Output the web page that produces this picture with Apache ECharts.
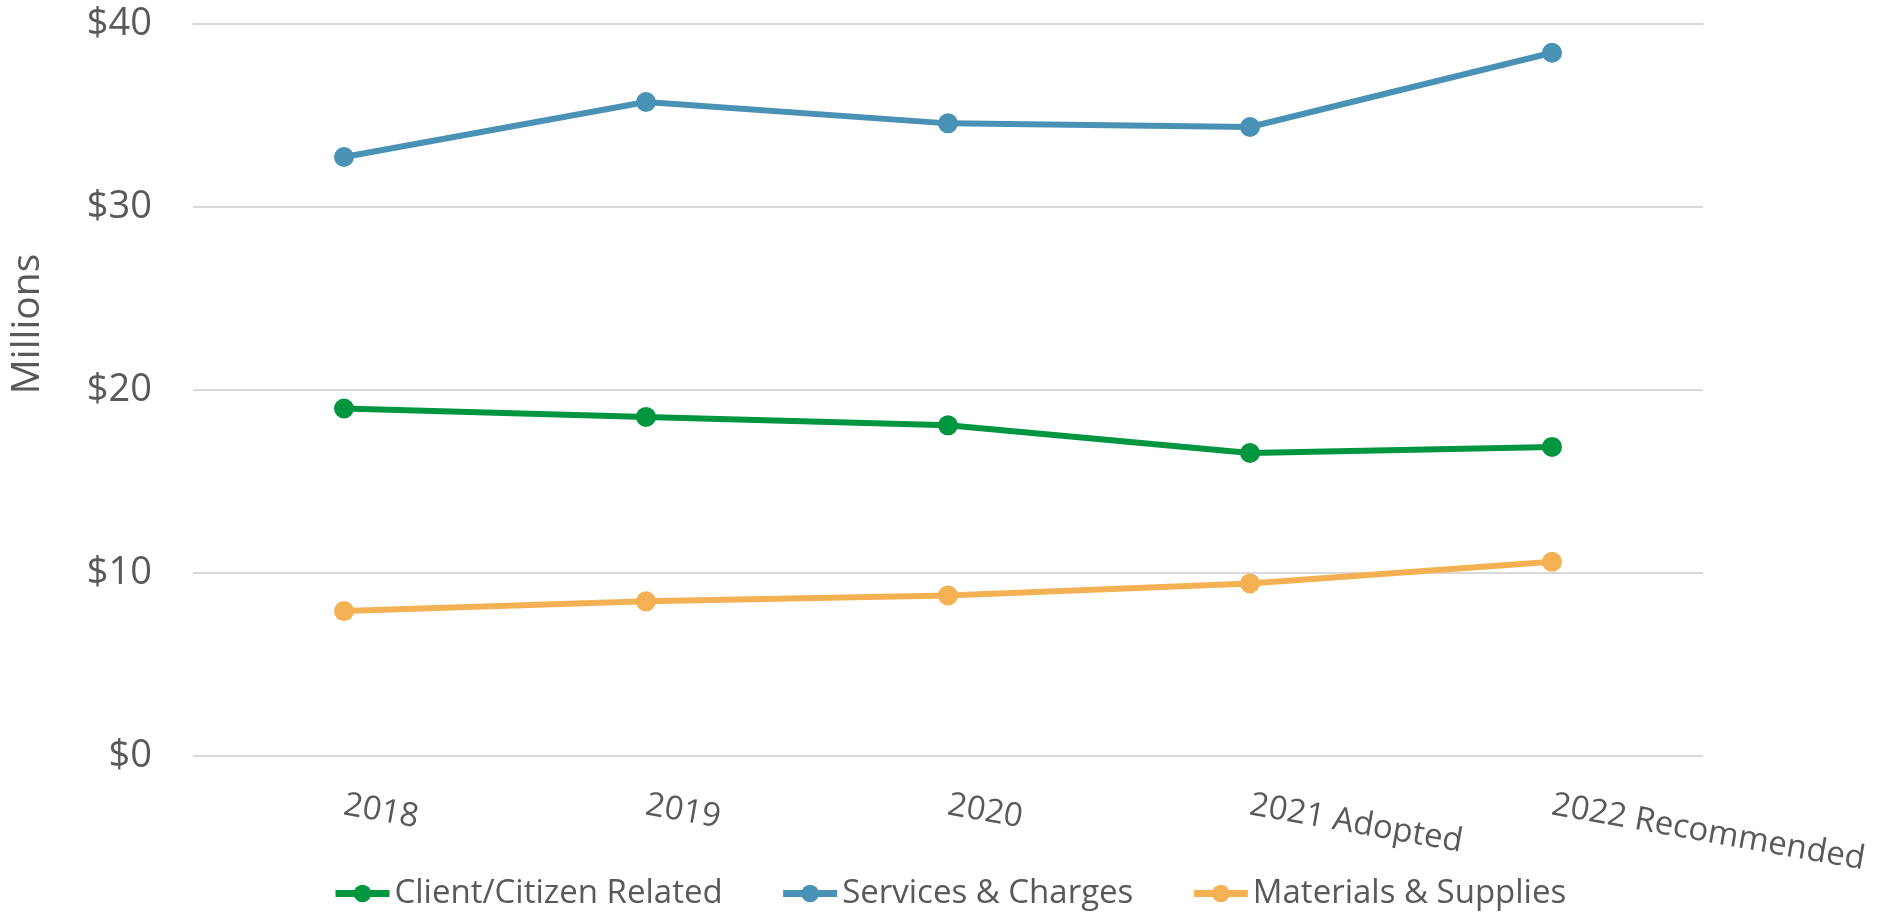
<!DOCTYPE html>
<html>
<head>
<meta charset="utf-8">
<script src="https://cdn.jsdelivr.net/npm/echarts@6/dist/echarts.min.js"></script>
<style>
  html, body { margin: 0; padding: 0; background: #fff; }
  #main { width: 1878px; height: 915px; }
</style>
</head>
<body>
<div id="main"></div>
<script>
// data (values in millions of dollars)
const years = ['2018', '2019', '2020', '2021 Adopted', '2022 Recommended'];
const clientCitizen = [18.99, 18.53, 18.07, 16.56, 16.89];
const servicesCharges = [32.73, 35.74, 34.57, 34.37, 38.43];
const materialsSupplies = [7.92, 8.45, 8.77, 9.43, 10.61];
const yTicks = [0, 10, 20, 30, 40];

const textColor = '#595959';
const font = '"Open Sans", sans-serif';

const myChart = echarts.init(document.getElementById('main'));

function lineSeries(name, data, color) {
    return {
        name: name,
        type: 'line',
        data: data,
        symbol: 'circle',
        symbolSize: 20,
        itemStyle: { color: color },
        lineStyle: { color: color, width: 6 },
        z: 3
    };
}

const option = {
    animation: false,
    textStyle: { fontFamily: font },
    grid: { left: 192, right: 175, top: 24, bottom: 159 },
    legend: {
        bottom: 0,
        left: 327,
        itemWidth: 54,
        itemHeight: 22,
        itemGap: 57,
        lineStyle: { width: 7 },
        textStyle: { fontSize: 33, color: textColor, fontFamily: font },
        data: ['Client/Citizen Related', 'Services & Charges', 'Materials & Supplies']
    },
    xAxis: {
        type: 'category',
        data: years,
        boundaryGap: true,
        axisLine: { show: false },
        axisTick: { show: false },
        axisLabel: {
            rotate: -10,
            margin: 49,
            fontSize: 33,
            color: textColor,
            fontFamily: font,
            interval: 0
        }
    },
    yAxis: {
        type: 'value',
        min: yTicks[0],
        max: yTicks[yTicks.length - 1],
        interval: 10,
        name: 'Millions',
        nameLocation: 'middle',
        nameRotate: 90,
        nameGap: 146,
        nameTextStyle: { fontSize: 39, color: textColor, fontFamily: font, padding: [0, 0, 0, 132] },
        axisLine: { show: false },
        axisTick: { show: false },
        splitLine: { lineStyle: { color: '#d9d9d9', width: 2 } },
        axisLabel: {
            margin: 41,
            fontSize: 38,
            color: textColor,
            fontFamily: font,
            formatter: v => '$' + v
        }
    },
    series: [
        lineSeries('Client/Citizen Related', clientCitizen, '#00953f'),
        lineSeries('Services & Charges', servicesCharges, '#4a91b6'),
        lineSeries('Materials & Supplies', materialsSupplies, '#f4b153')
    ]
};

myChart.setOption(option);
</script>
</body>
</html>
